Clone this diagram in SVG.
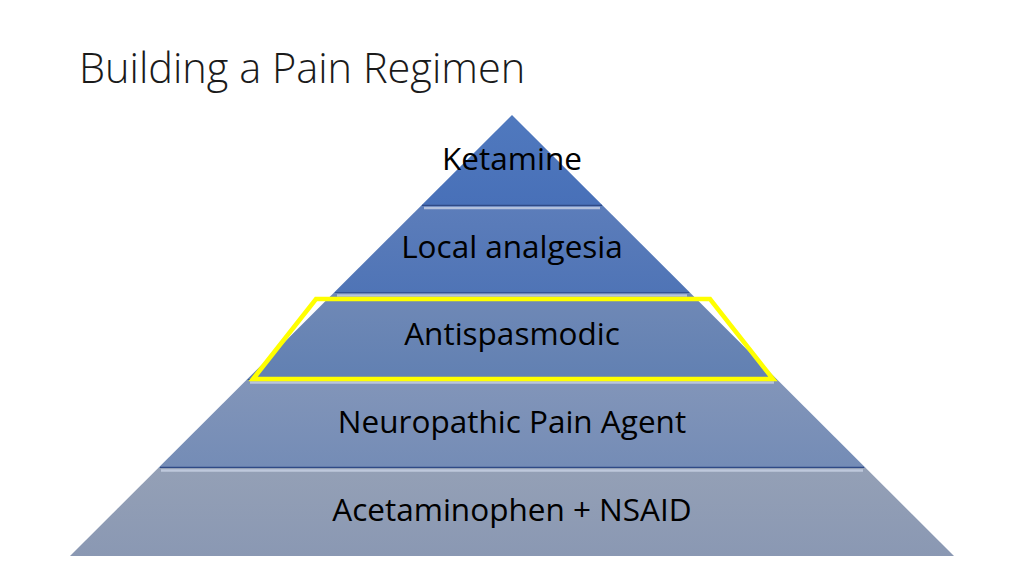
<svg xmlns="http://www.w3.org/2000/svg" width="1024" height="576" viewBox="0 0 1024 576">
<defs>
<linearGradient id="g1" x1="0" y1="0" x2="0" y2="1"><stop offset="0" stop-color="#5079BE"/><stop offset="1" stop-color="#4870B8"/></linearGradient>
<linearGradient id="g2" x1="0" y1="0" x2="0" y2="1"><stop offset="0" stop-color="#5C7DBA"/><stop offset="1" stop-color="#4F74B6"/></linearGradient>
<linearGradient id="g3" x1="0" y1="0" x2="0" y2="1"><stop offset="0" stop-color="#7089B6"/><stop offset="1" stop-color="#6180B2"/></linearGradient>
<linearGradient id="g4" x1="0" y1="0" x2="0" y2="1"><stop offset="0" stop-color="#8295B9"/><stop offset="1" stop-color="#748CB6"/></linearGradient>
<linearGradient id="g5" x1="0" y1="0" x2="0" y2="1"><stop offset="0" stop-color="#94A0B6"/><stop offset="1" stop-color="#8A98B3"/></linearGradient>
</defs>
<style>
.lbl{font-family:"Open Sans","Liberation Sans",sans-serif;font-size:31.5px;fill:#000;text-anchor:middle}
.title{font-family:"Open Sans","Liberation Sans",sans-serif;font-weight:300;font-size:41.5px;fill:#1a1a1a}
.hl{stroke:#C9D3E6;stroke-width:2.5;opacity:0.8}
.dk{stroke:#2F4A86;stroke-width:1.5}
</style>
<rect width="1024" height="576" fill="#ffffff"/>
<text class="title" x="79" y="83">Building a Pain Regimen</text>
<g id="tier1">
<polygon points="512,115 603.2,206 420.8,206" fill="url(#g1)"/>
<line class="dk" x1="422" y1="205.5" x2="602" y2="205.5"/>
<text class="lbl" x="512" y="170">Ketamine</text>
</g>
<g id="tier2">
<polygon points="420.8,206 603.2,206 690.4,293 333.6,293" fill="url(#g2)"/>
<line class="hl" x1="424" y1="208" x2="600" y2="208"/>
<line class="dk" x1="335" y1="293" x2="689" y2="293"/>
<text class="lbl" x="512" y="258">Local analgesia</text>
</g>
<g id="tier3">
<polygon points="333.6,293 690.4,293 777.6,380 246.4,380" fill="url(#g3)"/>
<line class="hl" x1="337" y1="295.5" x2="687" y2="295.5"/>
<line class="dk" x1="248" y1="380" x2="776" y2="380"/>
<text class="lbl" x="512" y="345">Antispasmodic</text>
</g>
<g id="tier4">
<polygon points="246.4,380 777.6,380 865.8,468 158.2,468" fill="url(#g4)"/>
<line class="hl" x1="250" y1="382.5" x2="774" y2="382.5"/>
<line class="dk" x1="160" y1="467.5" x2="864" y2="467.5"/>
<text class="lbl" x="512" y="433">Neuropathic Pain Agent</text>
</g>
<g id="tier5">
<polygon points="158.2,468 865.8,468 954,556 70,556" fill="url(#g5)"/>
<line class="hl" x1="161" y1="470.5" x2="863" y2="470.5"/>
<text class="lbl" x="512" y="521">Acetaminophen + NSAID</text>
</g>
<g id="highlight">
<polygon points="316,299 710,299 773,379 253,379" fill="none" stroke="#FFFF00" stroke-width="4.5" stroke-linejoin="miter"/>
</g>
</svg>
